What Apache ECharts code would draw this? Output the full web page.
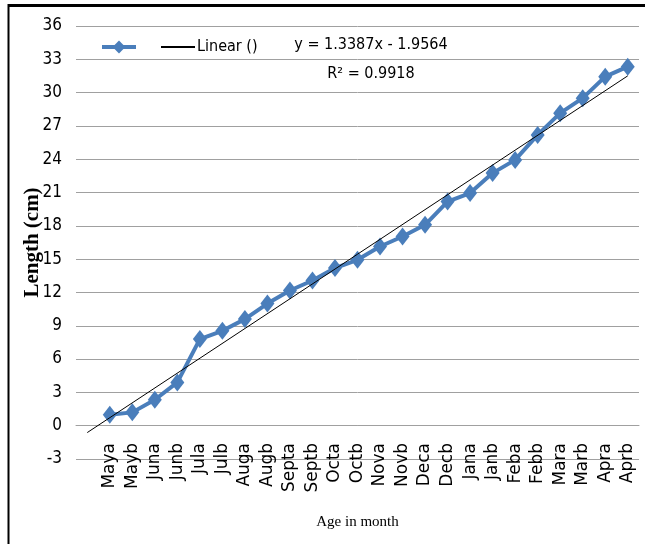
<!DOCTYPE html>
<html>
<head>
<meta charset="utf-8">
<script src="https://cdn.jsdelivr.net/npm/echarts@6/dist/echarts.min.js"></script>
<style>html,body{margin:0;padding:0;background:#fff}#c{width:645px;height:544px}</style>
</head>
<body>
<div id="c"></div>
<script>
// Categories (first slot is blank, as in the original spreadsheet)
var categories = ['', 'Maya', 'Mayb', 'Juna', 'Junb', 'Jula', 'Julb', 'Auga', 'Augb', 'Septa', 'Septb',
  'Octa', 'Octb', 'Nova', 'Novb', 'Deca', 'Decb', 'Jana', 'Janb', 'Feba', 'Febb', 'Mara', 'Marb', 'Apra', 'Aprb'];
// Length (cm) values
var lengths = [null, 0.99, 1.2, 2.34, 3.9, 7.8, 8.55, 9.6, 11.0, 12.18, 13.08, 14.2, 14.94, 16.14, 17.04,
  18.09, 20.19, 20.95, 22.75, 23.94, 26.19, 28.15, 29.5, 31.44, 32.34];
// Linear trendline end points [category index, value]
var trendStart = [0, -0.62];
var trendEnd = [24, 31.51];
var yTicks = { min: -3, max: 36, interval: 3 };
var equationText = 'y = 1.3387x - 1.9564';
var r2Text = 'R\u00B2 = 0.9918';

var narrow = '"DejaVu Sans Condensed", "Liberation Sans Narrow", "Liberation Sans", sans-serif';
var chart = echarts.init(document.getElementById('c'), null, { renderer: 'canvas' });
chart.setOption({
  animation: false,
  backgroundColor: '#fff',
  grid: { left: 76, right: 6, top: 26, bottom: 85, containLabel: false, outerBoundsMode: 'none' },
  legend: {
    left: 95, top: 34,
    itemWidth: 34, itemHeight: 16, itemGap: 22,
    data: [
      { name: 'Length', lineStyle: { width: 4 } },
      { name: 'Linear ()', itemStyle: { opacity: 0 } }
    ],
    formatter: function (n) { return n === 'Linear ()' ? n : ''; },
    textStyle: { fontFamily: narrow, fontSize: 16, color: '#000', padding: [0, 0, 0, -3] }
  },
  xAxis: {
    type: 'category',
    data: categories,
    boundaryGap: true,
    axisLine: { onZero: true, lineStyle: { color: '#a0a0a0', width: 1 } },
    axisTick: { show: false },
    axisLabel: {
      interval: 0, rotate: 90, margin: -16,
      fontFamily: '"DejaVu Sans", Verdana, sans-serif', fontSize: 17, color: '#000'
    },
    name: 'Age in month',
    nameLocation: 'middle',
    nameGap: 56,
    nameMoveOverlap: false,
    nameTextStyle: { fontFamily: '"Liberation Serif", "Times New Roman", serif', fontSize: 15, color: '#000' }
  },
  yAxis: {
    type: 'value',
    min: yTicks.min, max: yTicks.max, interval: yTicks.interval,
    axisLine: { show: false },
    axisTick: { show: false },
    splitLine: { show: true, lineStyle: { color: '#a0a0a0', width: 1 } },
    axisLabel: { margin: 14, fontFamily: narrow, fontSize: 17, color: '#000' },
    name: 'Length (cm)',
    nameLocation: 'middle',
    nameGap: 33,
    nameMoveOverlap: false,
    nameTextStyle: { fontFamily: '"Liberation Serif", "Times New Roman", serif', fontSize: 21, fontWeight: 'bold', color: '#000' }
  },
  series: [
    {
      name: 'Linear ()',
      type: 'line',
      data: [trendStart, trendEnd],
      symbol: 'none',
      lineStyle: { color: '#000', width: 1 },
      itemStyle: { color: '#000' },
      z: 3
    },
    {
      name: 'Length',
      type: 'line',
      data: lengths,
      symbol: 'diamond',
      symbolSize: [14, 18],
      lineStyle: { color: '#4a7ebb', width: 4 },
      itemStyle: { color: '#4a7ebb' },
      z: 2
    }
  ],
  graphic: [
    { type: 'line', shape: { x1: 8, y1: 5.5, x2: 645, y2: 5.5 }, style: { stroke: '#000', lineWidth: 3 } },
    { type: 'line', shape: { x1: 8.5, y1: 4, x2: 8.5, y2: 544 }, style: { stroke: '#000', lineWidth: 2 } },
    { type: 'text', x: 371, y: 45, style: { text: equationText, font: '16px ' + narrow, fill: '#000', align: 'center', verticalAlign: 'middle' } },
    { type: 'text', x: 371, y: 74, style: { text: r2Text, font: '16px ' + narrow, fill: '#000', align: 'center', verticalAlign: 'middle' } }
  ]
});
</script>
</body>
</html>
